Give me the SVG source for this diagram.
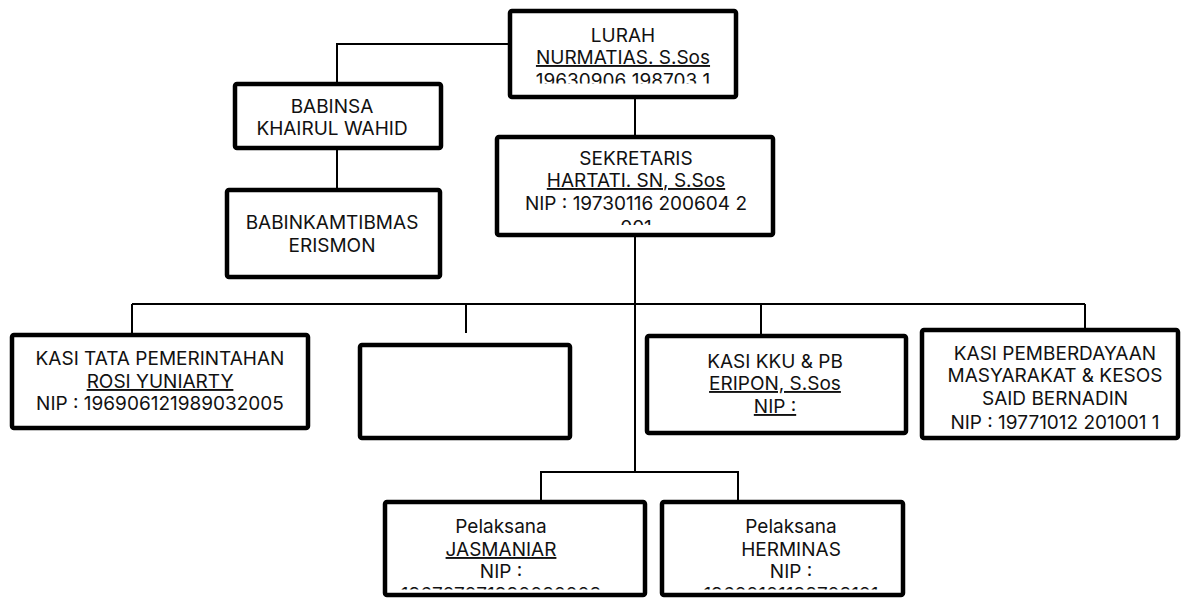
<svg xmlns="http://www.w3.org/2000/svg" width="1183" height="600" viewBox="0 0 1183 600">
<style>
.box{fill:#fff;stroke:#000;stroke-width:4.5;}
.con{fill:none;stroke:#000;stroke-width:2;}
text{font-family:Inter,"Liberation Sans",Arial,sans-serif;font-size:19px;fill:#111;text-anchor:middle;}
.u{text-decoration:underline;}
</style>
<defs>
<clipPath id="cLurah"><rect x="508" y="10" width="230" height="73.5"/></clipPath>
<clipPath id="cSek"><rect x="495" y="135" width="280" height="90"/></clipPath>
<clipPath id="cKasi4"><rect x="920" y="328" width="263" height="101"/></clipPath>
<clipPath id="cPel1"><rect x="383" y="500" width="264" height="89.5"/></clipPath>
<clipPath id="cPel2"><rect x="660" y="500" width="245" height="89.5"/></clipPath>
</defs>
<g id="connectors">
<polyline class="con" points="337,82 337,44 508,44"/>
<line class="con" x1="337" y1="149" x2="337" y2="188"/>
<line class="con" x1="635" y1="98" x2="635" y2="135"/>
<line class="con" x1="635" y1="237" x2="635" y2="472"/>
<line class="con" x1="132" y1="304" x2="1085" y2="304"/>
<line class="con" x1="132" y1="304" x2="132" y2="333"/>
<line class="con" x1="466" y1="304" x2="466" y2="333"/>
<line class="con" x1="761" y1="304" x2="761" y2="334"/>
<line class="con" x1="1085" y1="304" x2="1085" y2="328"/>
<polyline class="con" points="541,500 541,472 738,472 738,500"/>
</g>
<g id="lurah">
<rect class="box" x="510" y="11" width="226" height="86" rx="2"/>
<g clip-path="url(#cLurah)">
<text x="623" y="42">LURAH</text>
<text x="623" y="64" class="u">NURMATIAS. S.Sos</text>
<text x="623" y="87">19630906 198703 1</text>
</g>
</g>
<g id="babinsa">
<rect class="box" x="235" y="84" width="206" height="64" rx="2"/>
<text x="332" y="113">BABINSA</text>
<text x="332" y="135">KHAIRUL WAHID</text>
</g>
<g id="babinkamtibmas">
<rect class="box" x="227" y="190" width="213" height="87" rx="2"/>
<text x="332" y="229">BABINKAMTIBMAS</text>
<text x="332" y="252">ERISMON</text>
</g>
<g id="sekretaris">
<rect class="box" x="497" y="137" width="276" height="98" rx="2"/>
<g clip-path="url(#cSek)">
<text x="636" y="165">SEKRETARIS</text>
<text x="636" y="187" class="u">HARTATI. SN, S.Sos</text>
<text x="636" y="210">NIP : 19730116 200604 2</text>
<text x="636" y="234">001</text>
</g>
</g>
<g id="kasi-tata">
<rect class="box" x="12" y="335" width="296" height="93" rx="2"/>
<text x="160" y="365">KASI TATA PEMERINTAHAN</text>
<text x="160" y="388" class="u">ROSI YUNIARTY</text>
<text x="160" y="410">NIP : 196906121989032005</text>
</g>
<g id="kasi-blank">
<rect class="box" x="360" y="345" width="210" height="93" rx="2"/>
</g>
<g id="kasi-kku">
<rect class="box" x="647" y="336" width="259" height="97" rx="2"/>
<text x="775" y="368">KASI KKU &amp; PB</text>
<text x="775" y="390" class="u">ERIPON, S.Sos</text>
<text x="775" y="413" class="u">NIP :</text>
</g>
<g id="kasi-pemberdayaan">
<rect class="box" x="922" y="330" width="256" height="108" rx="2"/>
<g clip-path="url(#cKasi4)">
<text x="1055" y="360">KASI PEMBERDAYAAN</text>
<text x="1055" y="382">MASYARAKAT &amp; KESOS</text>
<text x="1055" y="405">SAID BERNADIN</text>
<text x="1055" y="429">NIP : 19771012 201001 1</text>
</g>
</g>
<g id="pelaksana-1">
<rect class="box" x="385" y="502" width="260" height="93" rx="2"/>
<g clip-path="url(#cPel1)">
<text x="501" y="533">Pelaksana</text>
<text x="501" y="556" class="u">JASMANIAR</text>
<text x="501" y="578">NIP :</text>
<text x="501" y="601">196707071990032003</text>
</g>
</g>
<g id="pelaksana-2">
<rect class="box" x="662" y="502" width="241" height="93" rx="2"/>
<g clip-path="url(#cPel2)">
<text x="791" y="533">Pelaksana</text>
<text x="791" y="556">HERMINAS</text>
<text x="791" y="578">NIP :</text>
<text x="791" y="601">19620101198703101</text>
</g>
</g>
</svg>
